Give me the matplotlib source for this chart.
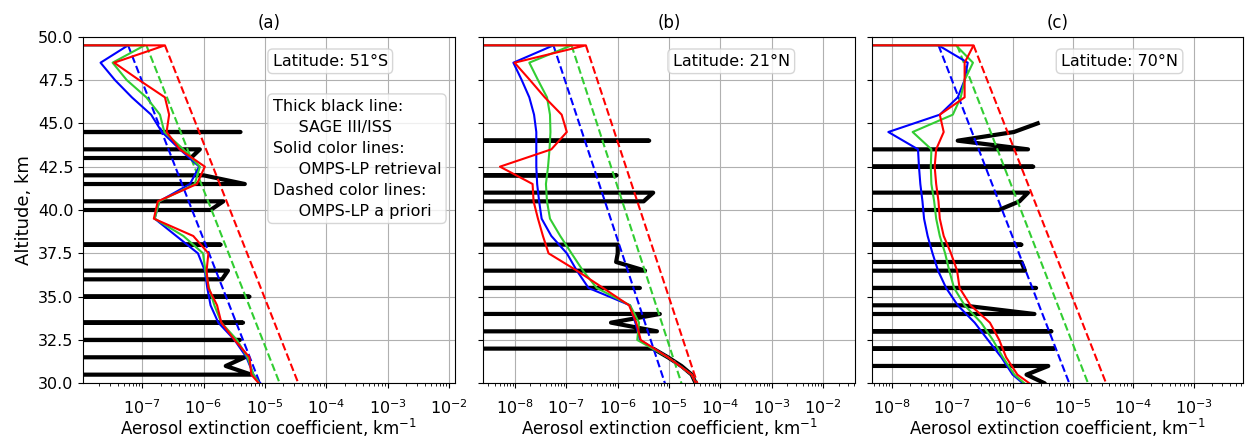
import matplotlib
matplotlib.use("Agg")
import matplotlib.pyplot as plt
import numpy as np

# altitude grids (km)
alt_omps = np.arange(50.5, 29.0, -1.0)   # OMPS-LP retrieval grid
alt_sage = np.arange(45.0, 29.25, -0.5)  # SAGE III/ISS grid
alt_apriori = [49.5, 40.0, 30.0]

N = np.nan
NEG = -1e-6   # negative retrieved values (clipped on log axis)

# ---- panel (a), 51S ----
a_blue = [NEG, 5.9e-8, 2.1e-8, 3.6e-8, 6.8e-8, 1.4e-7, 2.1e-7, 4.1e-7, 8.5e-7, 6.0e-7, 1.9e-7,
          1.6e-7, 3.6e-7, 8.1e-7, 1.05e-6, 1.15e-6, 1.3e-6, 1.74e-6, 3.2e-6, 5.0e-6, 6.5e-6, 1.1e-5]
a_green = [NEG, 1.1e-7, 3.3e-8, 5.6e-8, 1.17e-7, 1.95e-7, 2.3e-7, 4.7e-7, 8.7e-7, 7.2e-7, 1.9e-7,
           1.6e-7, 4.7e-7, 9.8e-7, 1.07e-6, 1.23e-6, 1.5e-6, 1.95e-6, 3.5e-6, 5.2e-6, 6.5e-6, 1.0e-5]
a_red = [NEG, 2.35e-7, 3.5e-8, 8.9e-8, 2.35e-7, 2.75e-7, 2.5e-7, 4.1e-7, 1.05e-6, 7.8e-7, 1.8e-7,
         1.55e-7, 6.8e-7, 1.2e-6, 1.12e-6, 1.2e-6, 1.66e-6, 1.95e-6, 3.2e-6, 5.6e-6, 6.0e-6, 1.05e-5]
a_blue_ap = [5.9e-8, 6.5e-7, 8.3e-6]
a_green_ap = [1.17e-7, 1.35e-6, 1.74e-5]
a_red_ap = [2.35e-7, 2.7e-6, 3.5e-5]
a_sage = [NEG, 4.0e-6, NEG, 8.7e-7, 6.2e-7, NEG, 1.0e-6, 4.7e-6, NEG, 2.1e-6, 1.3e-6,
          NEG, NEG, NEG, 1.9e-6, NEG, NEG, 2.5e-6, 2.0e-6, NEG, 5.6e-6, NEG,
          NEG, 4.4e-6, NEG, 3.9e-6, NEG, 4.7e-6, 2.3e-6, 6.0e-6, NEG, N]

# ---- panel (b), 21N ----
b_blue = [NEG, 5.6e-8, 9.3e-9, 1.35e-8, 1.9e-8, 2.35e-8, 2.6e-8, 2.6e-8, 2.6e-8, 2.7e-8, 2.95e-8,
          3.3e-8, 5.1e-8, 1.02e-7, 1.6e-7, 2.7e-7, 1.74e-6, 2.2e-6, 2.7e-6, 9.5e-6, 2.75e-5, 4.0e-5]
b_green = [NEG, 1.26e-7, 1.9e-8, 2.8e-8, 4.2e-8, 4.8e-8, 4.9e-8, 4.7e-8, 4.4e-8, 4.0e-8, 4.2e-8,
           4.8e-8, 7.6e-8, 1.26e-7, 2.1e-7, 3.9e-7, 1.74e-6, 2.6e-6, 2.4e-6, 9.5e-6, 2.75e-5, 4.0e-5]
b_red = [NEG, 2.4e-7, 9.8e-9, 1.95e-8, 3.8e-8, 8.1e-8, 1.02e-7, 5.1e-8, 5.1e-9, 2.2e-8, 2.3e-8,
         2.8e-8, 3.5e-8, 4.5e-8, 1.6e-7, 5.2e-7, 1.66e-6, 2.3e-6, 2.8e-6, 9.5e-6, 2.75e-5, 4.0e-5]
b_blue_ap = [5.6e-8, 6.4e-7, 8.3e-6]
b_green_ap = [1.26e-7, 1.39e-6, 1.74e-5]
b_red_ap = [2.4e-7, 2.73e-6, 3.55e-5]
b_sage = [N, NEG, 4.1e-6, NEG, NEG, NEG, 9.5e-7, NEG, 4.9e-6, 3.2e-6, NEG,
          NEG, NEG, NEG, 1.0e-6, 1.0e-6, 9.3e-7, 3.4e-6, NEG, 2.7e-6, NEG, NEG,
          6.6e-6, 7.4e-7, 5.8e-6, NEG, 4.9e-6, 9.5e-6, 1.74e-5, 2.75e-5, 3.3e-5, 4.0e-5]

# ---- panel (c), 70N ----
c_blue = [NEG, 5.9e-8, 1.8e-7, 1.6e-7, 1.23e-7, 6.2e-8, 8.7e-9, 2.7e-8, 2.8e-8, 2.95e-8, 3.2e-8,
          3.4e-8, 3.9e-8, 4.7e-8, 5.8e-8, 7.9e-8, 1.23e-7, 2.35e-7, 3.9e-7, 6.5e-7, 1.0e-6, 2.2e-6]
c_green = [NEG, 1.15e-7, 2.2e-7, 1.6e-7, 1.38e-7, 1.02e-7, 2.2e-8, 4.5e-8, 4.4e-8, 4.5e-8, 5.0e-8,
           5.4e-8, 6.2e-8, 7.6e-8, 8.9e-8, 1.07e-7, 1.6e-7, 3.0e-7, 4.7e-7, 6.9e-7, 1.07e-6, 2.3e-6]
c_red = [NEG, 2.25e-7, 1.6e-7, 1.6e-7, 1.6e-7, 6.2e-8, 7.2e-8, 5.4e-8, 5.1e-8, 5.4e-8, 5.9e-8,
         6.2e-8, 7.2e-8, 9.5e-8, 1.2e-7, 1.32e-7, 2.0e-7, 4.2e-7, 6.0e-7, 7.8e-7, 1.2e-6, 3.0e-6]
c_blue_ap = [5.9e-8, 6.7e-7, 8.7e-6]
c_green_ap = [1.2e-7, 1.37e-6, 1.78e-5]
c_red_ap = [2.25e-7, 2.64e-6, 3.55e-5]
c_sage = [2.6e-6, 1.05e-6, 1.23e-7, 1.8e-6, NEG, 2.2e-6, NEG, NEG, 1.8e-6, 1.3e-6, 5.9e-7,
          NEG, NEG, NEG, 1.4e-6, NEG, 1.4e-6, 1.6e-6, NEG, 2.45e-6, NEG, 1.45e-7,
          2.3e-6, NEG, 4.4e-6, NEG, 4.9e-6, NEG, 3.9e-6, 1.7e-6, 3.4e-6, 4.0e-6]

panels = [
    ('(a)', 'Latitude: 51°S', a_sage, (a_blue, a_green, a_red), (a_blue_ap, a_green_ap, a_red_ap), (1.1e-8, 1.23e-2)),
    ('(b)', 'Latitude: 21°N', b_sage, (b_blue, b_green, b_red), (b_blue_ap, b_green_ap, b_red_ap), (2.42e-9, 4.1e-2)),
    ('(c)', 'Latitude: 70°N', c_sage, (c_blue, c_green, c_red), (c_blue_ap, c_green_ap, c_red_ap), (4.6e-9, 6.6e-3)),
]
colors = ['blue', 'limegreen', 'red']
lefts = [0.0668, 0.3876, 0.6990]

fig = plt.figure(figsize=(12.47, 4.42), dpi=100)

for i, (title, lat, sage, solid, apriori, xlim) in enumerate(panels):
    ax = fig.add_axes([lefts[i], 0.1328, 0.2978, 0.7842])
    ax.set_xscale('log')
    ax.plot(sage, alt_sage, color='black', linewidth=3)
    for vals_ap, col in zip(apriori, colors):
        ax.plot(vals_ap, alt_apriori, color=col, linestyle='--', linewidth=1.5)
    for vals, col in zip(solid, colors):
        ax.plot(vals, alt_omps, color=col, linewidth=1.5)
    ax.set_xlim(*xlim)
    ax.set_ylim(30, 50)
    ax.set_yticks(np.arange(30, 50.1, 2.5))
    ax.grid(True)
    ax.set_title(title, fontsize=12)
    ax.set_xlabel('Aerosol extinction coefficient, km$^{-1}$', fontsize=12, labelpad=0)
    ax.tick_params(labelsize=11.5)
    ax.tick_params(axis='x', which='major', pad=7)
    if i == 0:
        ax.set_ylabel('Altitude, km', fontsize=13)
    else:
        ax.tick_params(labelleft=False)

    box = dict(boxstyle='round,pad=0.3', facecolor='white', edgecolor='0.8', alpha=0.8)
    ax.text(0.51, 0.929, lat, transform=ax.transAxes, fontsize=11.5,
            ha='left', va='center', bbox=box)
    if i == 0:
        ax.text(0.51, 0.648,
                'Thick black line:\n     SAGE III/ISS\nSolid color lines:\n     OMPS-LP retrieval\n'
                'Dashed color lines:\n     OMPS-LP a priori',
                transform=ax.transAxes, fontsize=11.5, ha='left', va='center',
                linespacing=1.5, bbox=box)

plt.savefig('out.png', dpi=100)
